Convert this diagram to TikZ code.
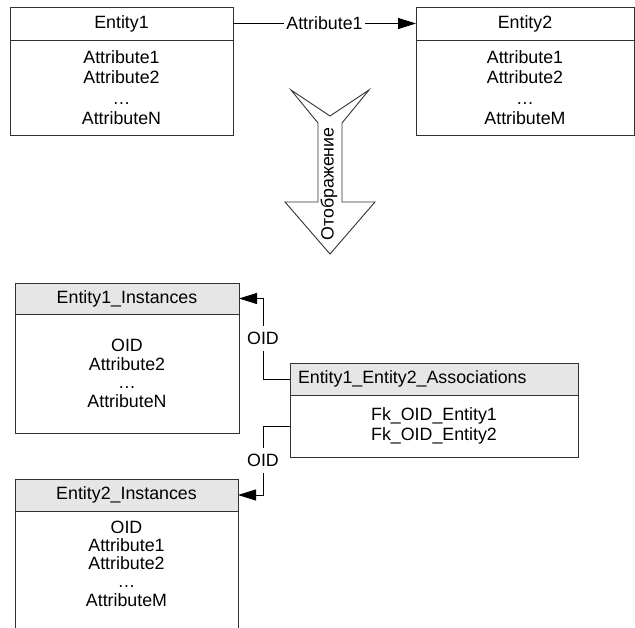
\documentclass[tikz,border=0pt]{standalone}
\usepackage{fontspec}
\setmainfont{Liberation Sans}
\usetikzlibrary{arrows.meta}
\definecolor{boxline}{RGB}{50,50,50}
\definecolor{hdrfill}{RGB}{230,230,230}
\tikzset{
  txt/.style={font=\fontsize{17.8}{20}\selectfont},
  plainhead/.style={txt, draw=boxline, line width=1pt, fill=white, anchor=north west,
                    inner sep=0pt, outer sep=0pt},
  grayhead/.style={plainhead, fill=hdrfill},
  bodybox/.style={txt, draw=boxline, line width=1pt, fill=white, anchor=north west,
                  inner sep=0pt, outer sep=0pt, align=center},
  conn/.style={draw=black, line width=0.9pt, -{Triangle[length=18pt,width=11pt]}},
  lab/.style={txt, fill=white, inner xsep=2pt, inner ysep=6pt},
}
\begin{document}
\begin{tikzpicture}[x=1pt,y=-1pt]
\useasboundingbox (0,0) rectangle (635,627);
\clip (0,0) rectangle (635,627);

% conceptual level: two entities
\node[plainhead, minimum width=223, minimum height=33] (e1h) at (10,7) {Entity1};
\node[bodybox, minimum width=223, minimum height=95,
      font=\fontsize{17.8}{20.3}\selectfont] (e1b) at (10,40)
     {Attribute1\\Attribute2\\…\\AttributeN};

\node[plainhead, minimum width=218, minimum height=33] (e2h) at (416,7) {Entity2};
\node[bodybox, minimum width=218, minimum height=95,
      font=\fontsize{17.8}{20.3}\selectfont] (e2b) at (416,40)
     {Attribute1\\Attribute2\\…\\AttributeM};

\draw[conn] (e1h.east) -- node[lab] (rel) {Attribute1} (e2h.west);

% mapping arrow
\draw[boxline, line width=0.9pt, fill=white, line join=miter]
  (291,90) -- (330,116) -- (369,90) -- (342,123) -- (342,202) -- (375,202)
  -- (330,254) -- (285,202) -- (318,202) -- (318,123) -- cycle;
\node[txt, rotate=90] (map) at (329,184) {Отображение};

% relational level: tables
\node[grayhead, minimum width=224, minimum height=31] (e1ih) at (15,283) {Entity1\_Instances};
\node[bodybox, minimum width=224, minimum height=119,
      font=\fontsize{17.8}{18.7}\selectfont] (e1ib) at (15,314)
     {OID\\Attribute2\\…\\AttributeN};

\node[grayhead, minimum width=288, minimum height=32, text width=272, align=left,
      inner xsep=8pt] (ah) at (290,363) {Entity1\_Entity2\_Associations};
\node[bodybox, minimum width=288, minimum height=62] (ab) at (290,395)
     {Fk\_OID\_Entity1\\Fk\_OID\_Entity2};

\node[grayhead, minimum width=223, minimum height=32] (e2ih) at (15,479) {Entity2\_Instances};
\draw[boxline, line width=1pt, fill=white] (15,511) rectangle (238,660);
\node[txt, align=center, font=\fontsize{17.8}{18.3}\selectfont] (e2ib) at (126.5,563.5)
     {OID\\Attribute1\\Attribute2\\…\\AttributeM};

% foreign key references
\draw[conn] (ah.west) -- ++(-27,0) |- node[lab, pos=0.25] (oid1) {OID} (e1ih.east);
\draw[conn] (ab.west) -- ++(-27,0) |- node[lab, pos=0.25] (oid2) {OID} (e2ih.east);
\end{tikzpicture}
\end{document}
